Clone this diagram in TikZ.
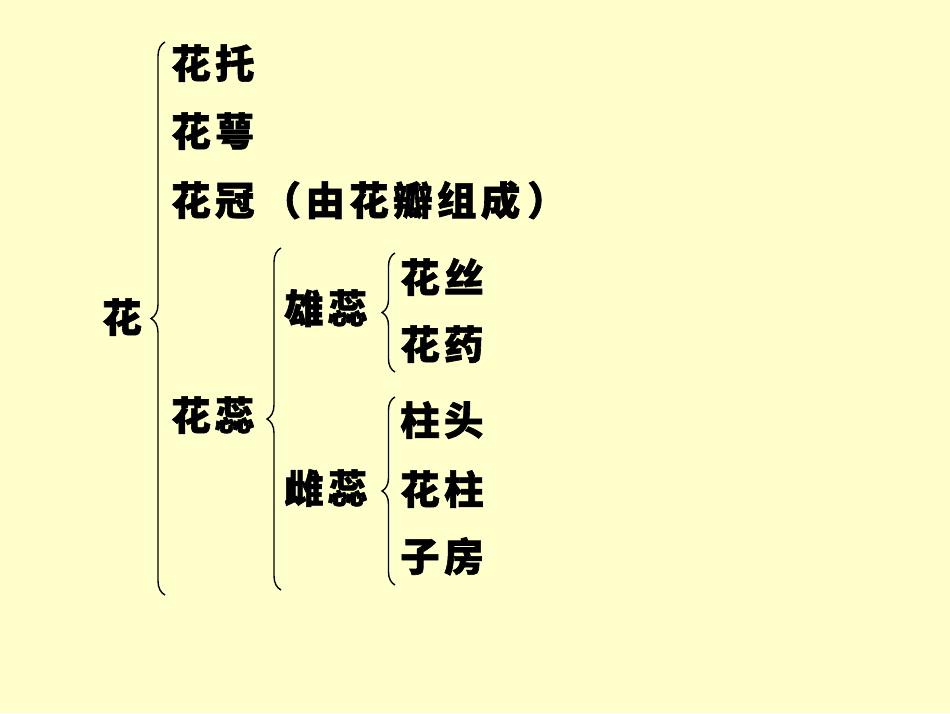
\documentclass[tikz,border=0pt]{standalone}
\usepackage{fontspec}
\newfontfamily\cjk{Noto Sans CJK SC}[LetterSpace=11, BoldFeatures={FakeBold=1.5}]
\usetikzlibrary{decorations.pathreplacing}
\definecolor{bg}{HTML}{FFFFCC}
\begin{document}
\begin{tikzpicture}[x=1pt,y=-1pt,
  lbl/.style={anchor=west, inner sep=0pt, font=\cjk\bfseries\fontsize{39.5}{42}\selectfont, text height=33pt, text depth=2.7pt},
  brc/.style={draw, line width=1.4pt, decorate, decoration={brace, amplitude=#1}},
  brc/.default=14pt]
\fill[bg] (0,0) rectangle (950,713);
\useasboundingbox (0,0) rectangle (950,713);
% labels
\node[lbl] (hua) at (102,317) {花};
\node[lbl] (tuo) at (171,63) {花托};
\node[lbl] (e) at (171,131) {花萼};
\node[lbl] (guan) at (171,200) {花冠\hspace{7pt}（由花瓣组成\hspace{7pt}）};
\node[lbl] (rui) at (171,415) {花蕊};
\node[lbl] (xiong) at (284,308) {雄蕊};
\node[lbl] (ci) at (284,488) {雌蕊};
\node[lbl] (si) at (400,277) {花丝};
\node[lbl] (yao) at (400,344) {花药};
\node[lbl] (zhutou) at (400,420) {柱头};
\node[lbl] (zhu) at (400,489) {花柱};
\node[lbl] (fang) at (400,556) {子房};
% brace end points
\coordinate (b1t) at (165,42);  \coordinate (b1b) at (165,595);
\coordinate (b2t) at (281,248); \coordinate (b2b) at (281,590);
\coordinate (b3t) at (395,253); \coordinate (b3b) at (395,372);
\coordinate (b4t) at (395,397); \coordinate (b4b) at (395,585);
\draw[brc] (b1b) -- (b1t);
\draw[brc] (b2b) -- (b2t);
\draw[brc=13pt] (b3b) -- (b3t);
\draw[brc=13pt] (b4b) -- (b4t);
\end{tikzpicture}
\end{document}
